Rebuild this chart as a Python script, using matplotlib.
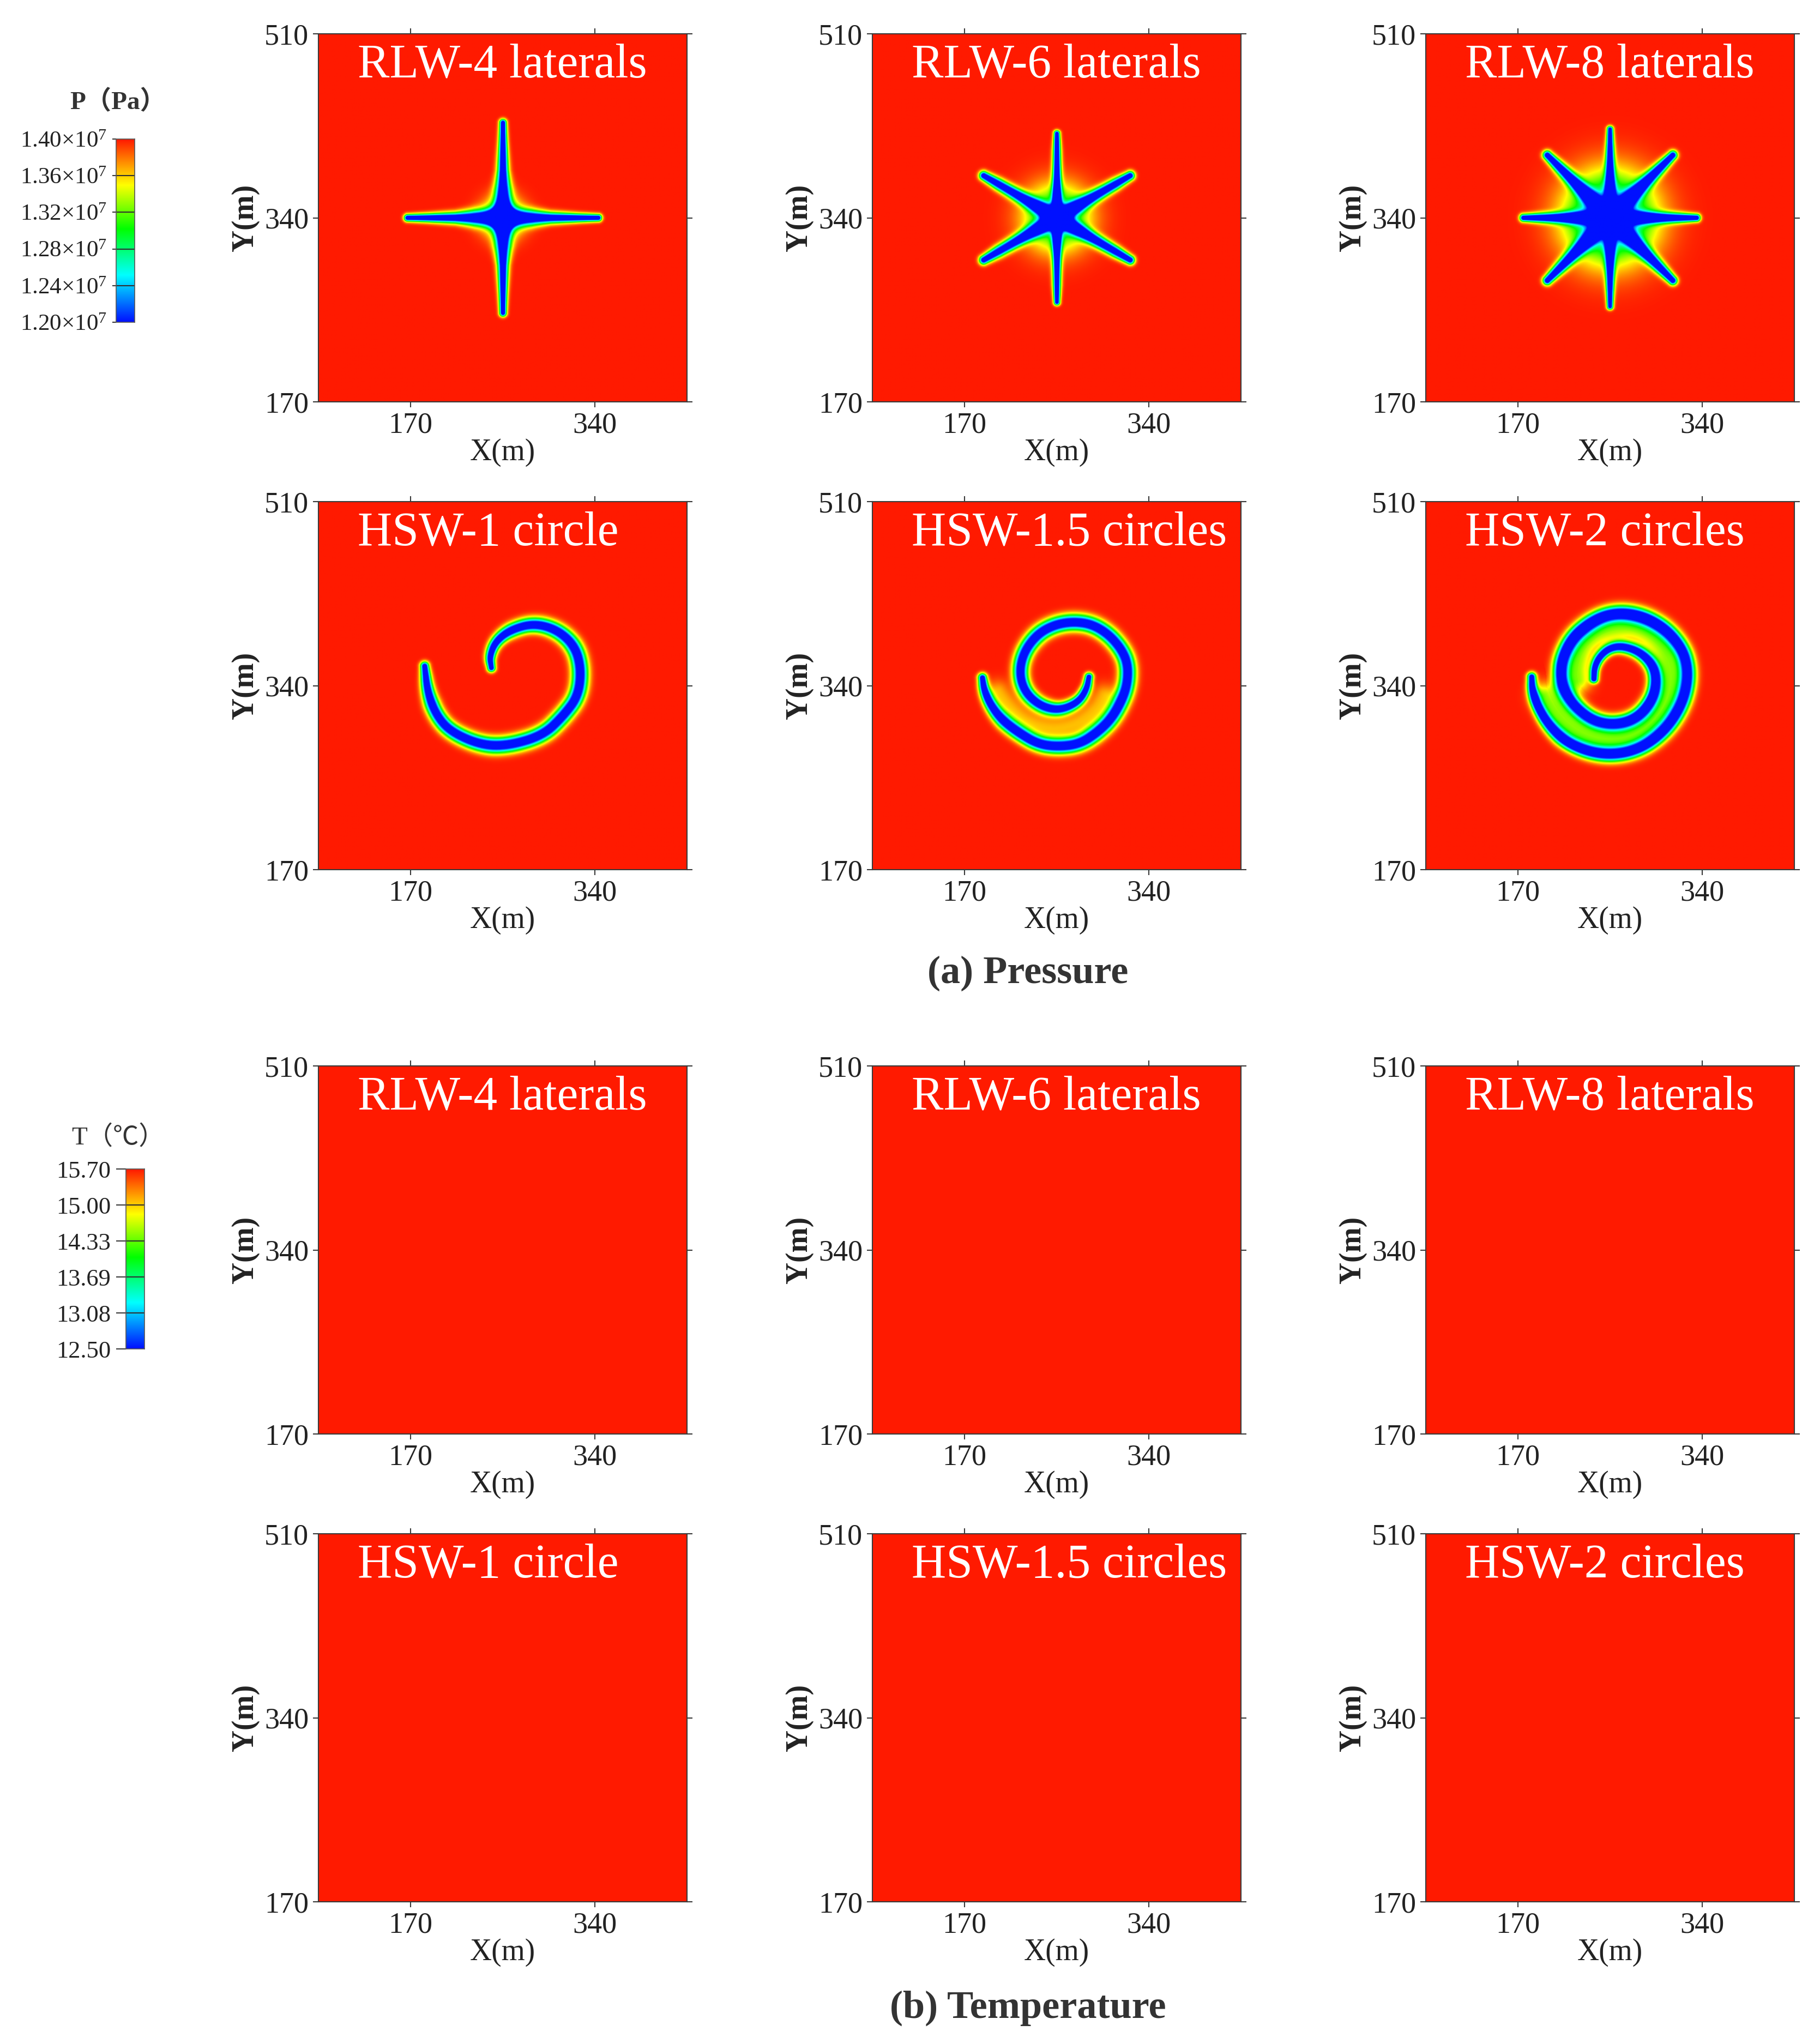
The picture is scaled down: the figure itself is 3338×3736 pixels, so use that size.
#!/usr/bin/env python3
"""Pressure and temperature maps around radial lateral and helical wells."""

import matplotlib
matplotlib.use("Agg")
import matplotlib.pyplot as plt
import numpy as np
from matplotlib.colors import LinearSegmentedColormap

plt.rcParams["font.family"] = ["Liberation Serif", "Noto Sans CJK SC", "DejaVu Sans"]
plt.rcParams["mathtext.fontset"] = "custom"
plt.rcParams["mathtext.rm"] = "Liberation Serif"
plt.rcParams["mathtext.default"] = "regular"

FIG_W, FIG_H = 3338, 3736
DARK = "#3a3a3a"

COL_LEFT = [584, 1600, 2615]
ROW_TOP = [62, 920, 1955, 2813]
AX_W, AX_H = 676, 675

X_RANGE = (85, 425)
Y_RANGE = (170, 510)
X_TICKS = [170, 340]
Y_TICKS = [170, 340, 510]

TOP_TITLES = ["RLW-4 laterals", "RLW-6 laterals", "RLW-8 laterals"]
BOTTOM_TITLES = ["HSW-1 circle", "HSW-1.5 circles", "HSW-2 circles"]

P_MIN, P_MAX = 1.20e7, 1.40e7
T_MAX = 15.70
P_LABELS = ["1.20", "1.24", "1.28", "1.32", "1.36", "1.40"]
T_LABELS = ["12.50", "13.08", "13.69", "14.33", "15.00", "15.70"]

RAINBOW_POS = [0.0, 0.256, 0.51, 0.75, 1.0]
RAINBOW_COL = ["#0010ff", "#00ffff", "#00ff00", "#ffff00", "#ff1a00"]

# Star wells: well centre, arm directions (deg), arm lengths (m), arm width factors
STAR_CENTRE = (255.0, 340.0)
ANGLES_4 = [0, 90, 180, 270]
LENGTHS_4 = [88, 88, 88, 88]
SCALES_4 = [1.0, 1.0, 1.0, 1.0]
ANGLES_6 = [30, 90, 150, 210, 270, 330]
LENGTHS_6 = [78, 78, 78, 78, 78, 78]
SCALES_6 = [1.0, 0.7, 1.0, 1.0, 0.7, 1.0]
ANGLES_8 = [0, 45, 90, 135, 180, 225, 270, 315]
LENGTHS_8 = [80, 82, 82, 82, 80, 82, 82, 82]
SCALES_8 = [0.85, 1.0, 0.7, 1.0, 0.85, 1.0, 0.7, 1.0]

# Gaussian width (m) along an arm, from centre (0) to tip (1)
ARM_FRAC = [0.0, 0.15, 0.3, 0.5, 0.8, 1.0]
ARM_WIDTH_4 = [7.0, 7.5, 7.0, 5.0, 3.8, 3.2]
ARM_WIDTH_6 = [6.0, 6.0, 6.0, 5.5, 5.0, 4.0]
ARM_WIDTH_8 = [6.5, 6.5, 6.5, 6.0, 5.0, 4.0]

# Central drawdown of each star: amplitude, radius (m)
HUB_4 = (0.7, 17.0)
HUB_6 = (0.72, 28.0)
HUB_8 = (1.0, 38.0)

# Helical well traces, inner tip to outer tip (m)
HSW1_X = [244.3, 242.7, 248.2, 261.8, 283.5, 305.3, 321.6, 327.1, 324.4, 310.8,
          292.0, 260.0, 235.0, 207.3, 193.7, 185.5, 182.8]
HSW1_Y = [356.5, 367.2, 380.9, 391.6, 397.7, 391.6, 376.3, 355.0, 330.5, 312.2,
          294.0, 284.5, 285.0, 297.0, 312.2, 333.6, 358.0]

HSW15_X = [284.5, 282.5, 275.8, 264.1, 252.4, 239.0, 227.3, 221.4, 221.4, 227.3,
           239.0, 254.1, 270.8, 287.5, 302.6, 314.3, 320.2, 320.2, 316.0, 306.0,
           292.6, 275.8, 255.7, 237.3, 218.9, 203.8, 193.8, 187.9, 186.3]
HSW15_Y = [348.0, 337.1, 326.2, 319.5, 317.8, 322.0, 332.1, 345.5, 360.6, 375.7,
           389.1, 396.7, 399.2, 396.7, 387.5, 374.0, 360.6, 343.8, 328.7, 310.2,
           296.8, 285.9, 283.4, 285.9, 296.8, 308.6, 322.0, 335.4, 347.2]

HSW2_X = [240.2, 240.7, 245.7, 254.9, 266.6, 281.7, 293.4, 297.6, 295.1, 285.0,
          271.7, 254.9, 238.2, 223.1, 212.2, 208.9, 210.6, 219.8, 234.8, 251.6,
          270.0, 290.1, 308.5, 321.9, 326.9, 326.1, 320.2, 308.5, 291.7, 273.3,
          253.2, 233.2, 213.1, 198.0, 188.0, 183.0, 182.6]
HSW2_Y = [346.3, 357.2, 367.3, 374.8, 376.5, 371.5, 360.6, 347.1, 330.3, 315.2,
          306.8, 304.3, 308.5, 320.3, 335.4, 348.8, 365.6, 384.1, 397.5, 405.9,
          407.6, 402.5, 390.8, 374.0, 357.2, 338.7, 320.3, 301.8, 286.7, 278.3,
          275.8, 279.1, 288.4, 303.5, 320.3, 335.4, 348.0]

# Mid-lines of the gaps between turns, where the two fronts overlap
GAP15_X = [200.5, 210.5, 225.6, 249.0, 272.5, 290.9, 299.3]
GAP15_Y = [333.7, 320.3, 306.9, 299.3, 303.5, 316.9, 330.4]
GAP2_X = [194.7, 203.0, 216.4, 233.2, 253.2, 273.3, 291.7, 306.8, 311.8, 306.8,
          295.1, 278.4, 261.6, 243.2, 229.8, 224.0, 224.8]
GAP2_Y = [330.3, 318.6, 303.5, 293.4, 289.2, 293.4, 303.5, 325.3, 348.8, 370.6,
          385.7, 394.1, 394.1, 389.1, 377.3, 358.9, 345.4]

# Gaussian width (m) along a helical trace
HELIX_FRAC = [0.0, 0.03, 0.12, 0.3, 0.7, 0.9, 0.97, 1.0]
HELIX_WIDTH = [3.6, 4.4, 6.0, 7.0, 7.0, 6.3, 4.7, 3.9]

LINE_AMP = 1.25


def grid():
    x = np.arange(X_RANGE[0], X_RANGE[1] + 0.5, 0.5)
    y = np.arange(Y_RANGE[0], Y_RANGE[1] + 0.5, 0.5)
    return np.meshgrid(x, y)


def round_corners(px, py, passes=3):
    """Corner cutting, so the traced polylines do not show their vertices."""
    pts = np.column_stack([px, py]).astype(float)
    for _ in range(passes):
        q = 0.75 * pts[:-1] + 0.25 * pts[1:]
        r = 0.25 * pts[:-1] + 0.75 * pts[1:]
        mid = np.empty((2 * len(q), 2))
        mid[0::2] = q
        mid[1::2] = r
        pts = np.vstack([pts[:1], mid, pts[-1:]])
    return pts[:, 0], pts[:, 1]


def trace_distance(xx, yy, px, py):
    """Distance from every grid node to a polyline and the fraction along it."""
    px = np.asarray(px, dtype=float)
    py = np.asarray(py, dtype=float)
    seg = np.hypot(np.diff(px), np.diff(py))
    cum = np.concatenate([[0.0], np.cumsum(seg)])
    best = np.full(xx.shape, np.inf)
    frac = np.zeros(xx.shape)
    for i in range(len(seg)):
        if seg[i] == 0:
            continue
        dx, dy = px[i + 1] - px[i], py[i + 1] - py[i]
        t = ((xx - px[i]) * dx + (yy - py[i]) * dy) / (seg[i] ** 2)
        t = np.clip(t, 0, 1)
        d = np.hypot(xx - px[i] - t * dx, yy - py[i] - t * dy)
        hit = d < best
        best[hit] = d[hit]
        frac[hit] = (cum[i] + t[hit] * seg[i]) / cum[-1]
    return best, frac


def star_field(angles, lengths, scales, widths, hub):
    xx, yy = grid()
    cx, cy = STAR_CENTRE
    s = hub[0] * np.exp(-((xx - cx) ** 2 + (yy - cy) ** 2) / hub[1] ** 2)
    for ang, length, scale in zip(angles, lengths, scales):
        ex = cx + length * np.cos(np.radians(ang))
        ey = cy + length * np.sin(np.radians(ang))
        d, frac = trace_distance(xx, yy, [cx, ex], [cy, ey])
        w = np.interp(frac, ARM_FRAC, widths) * scale
        s += LINE_AMP * np.exp(-(d / w) ** 2)
    return P_MAX - (P_MAX - P_MIN) * np.clip(s, 0, 1)


def helix_field(px, py, gap_x=None, gap_y=None, gap_amp=0.0, gap_width=8.0):
    xx, yy = grid()
    d, frac = trace_distance(xx, yy, *round_corners(px, py))
    w = np.interp(frac, HELIX_FRAC, HELIX_WIDTH)
    s = LINE_AMP * np.exp(-(d / w) ** 2)
    if gap_x is not None:
        dg, _ = trace_distance(xx, yy, *round_corners(gap_x, gap_y))
        s += gap_amp * np.exp(-(dg / gap_width) ** 2)
    return P_MAX - (P_MAX - P_MIN) * np.clip(s, 0, 1)


def add_axes_px(fig, left, top, width, height):
    return fig.add_axes([left / FIG_W, 1 - (top + height) / FIG_H, width / FIG_W, height / FIG_H])


def draw_panel(ax, field, vmin, vmax, title, cmap):
    ax.imshow(field, extent=[*X_RANGE, *Y_RANGE], origin="lower", cmap=cmap,
              vmin=vmin, vmax=vmax, interpolation="bilinear", aspect="auto")
    ax.set_xlim(*X_RANGE)
    ax.set_ylim(*Y_RANGE)
    ax.set_xticks(X_TICKS)
    ax.set_yticks(Y_TICKS)
    ax.tick_params(axis="both", direction="out", length=7, width=1.5, color=DARK,
                   top=True, right=True, labelsize=39, labelcolor="#222222", pad=6)
    for sp in ax.spines.values():
        sp.set_linewidth(1.5)
        sp.set_color(DARK)
    ax.set_xlabel("X(m)", fontsize=40, color="#222222", va="center")
    ax.set_ylabel("Y(m)", fontsize=40, color="#222222", fontweight="bold", va="center")
    ax.xaxis.set_label_coords(0.5, -0.138)
    ax.yaxis.set_label_coords(-0.198, 0.5)
    ax.text(0.107, 0.8815, title, transform=ax.transAxes, color="white",
            fontsize=63, ha="left", va="baseline")


def draw_colorbar(fig, left, top, width, height, labels, cmap, tick_len):
    ax = add_axes_px(fig, left, top, width, height)
    n = len(labels) - 1
    ramp = np.linspace(0, 1, 256).reshape(-1, 1)
    ax.imshow(ramp, extent=[0, 1, 0, n], origin="lower", cmap=cmap, aspect="auto",
              interpolation="bilinear")
    ax.set_xticks([])
    ax.set_yticks(range(n + 1))
    ax.set_yticklabels(labels)
    ax.hlines(range(1, n), 0, 1, color="#303030", linewidth=1.5)
    ax.tick_params(axis="y", length=tick_len, width=1.5, color=DARK, labelcolor="#222222", pad=7)
    for sp in ax.spines.values():
        sp.set_linewidth(1.2)
        sp.set_color("#555555")
    return ax


def main():
    cmap = LinearSegmentedColormap.from_list("rainbow_red", list(zip(RAINBOW_POS, RAINBOW_COL)), N=512)

    fig = plt.figure(figsize=(FIG_W / 100, FIG_H / 100), dpi=100, facecolor="white")

    pressure_top = [
        star_field(ANGLES_4, LENGTHS_4, SCALES_4, ARM_WIDTH_4, HUB_4),
        star_field(ANGLES_6, LENGTHS_6, SCALES_6, ARM_WIDTH_6, HUB_6),
        star_field(ANGLES_8, LENGTHS_8, SCALES_8, ARM_WIDTH_8, HUB_8),
    ]
    pressure_bottom = [
        helix_field(HSW1_X, HSW1_Y),
        helix_field(HSW15_X, HSW15_Y, GAP15_X, GAP15_Y, 0.18, 11.0),
        helix_field(HSW2_X, HSW2_Y, GAP2_X, GAP2_Y, 0.36, 12.0),
    ]
    flat_temperature = np.full((4, 4), T_MAX)

    for c, left in enumerate(COL_LEFT):
        ax = add_axes_px(fig, left, ROW_TOP[0], AX_W, AX_H)
        draw_panel(ax, pressure_top[c], P_MIN, P_MAX, TOP_TITLES[c], cmap)
        ax = add_axes_px(fig, left, ROW_TOP[1], AX_W, AX_H)
        draw_panel(ax, pressure_bottom[c], P_MIN, P_MAX, BOTTOM_TITLES[c], cmap)
        ax = add_axes_px(fig, left, ROW_TOP[2], AX_W, AX_H)
        draw_panel(ax, flat_temperature, 12.5, T_MAX, TOP_TITLES[c], cmap)
        ax = add_axes_px(fig, left, ROW_TOP[3], AX_W, AX_H)
        draw_panel(ax, flat_temperature, 12.5, T_MAX, BOTTOM_TITLES[c], cmap)

    cb = draw_colorbar(fig, 213, 255, 34, 336, [lab + "×10$^{7}$" for lab in P_LABELS], cmap, 5)
    cb.tick_params(axis="y", labelsize=31)
    cb = draw_colorbar(fig, 231, 2144, 34, 330, T_LABELS, cmap, 13)
    cb.tick_params(axis="y", labelsize=32)

    fig.text(216 / FIG_W, 1 - 188 / FIG_H, "P（Pa）", fontsize=34, fontweight="bold",
             color="#333333", ha="center", va="center")
    fig.text(216 / FIG_W, 1 - 2086 / FIG_H, "T（℃）", fontsize=34,
             color="#333333", ha="center", va="center")
    fig.text(1885 / FIG_W, 1 - 1785 / FIG_H, "(a) Pressure", fontsize=52, fontweight="bold",
             color="#333333", ha="center", va="center")
    fig.text(1885 / FIG_W, 1 - 3683 / FIG_H, "(b) Temperature", fontsize=52, fontweight="bold",
             color="#333333", ha="center", va="center")

    fig.savefig("out.png", dpi=100, facecolor="white")
    plt.close(fig)


if __name__ == "__main__":
    main()
